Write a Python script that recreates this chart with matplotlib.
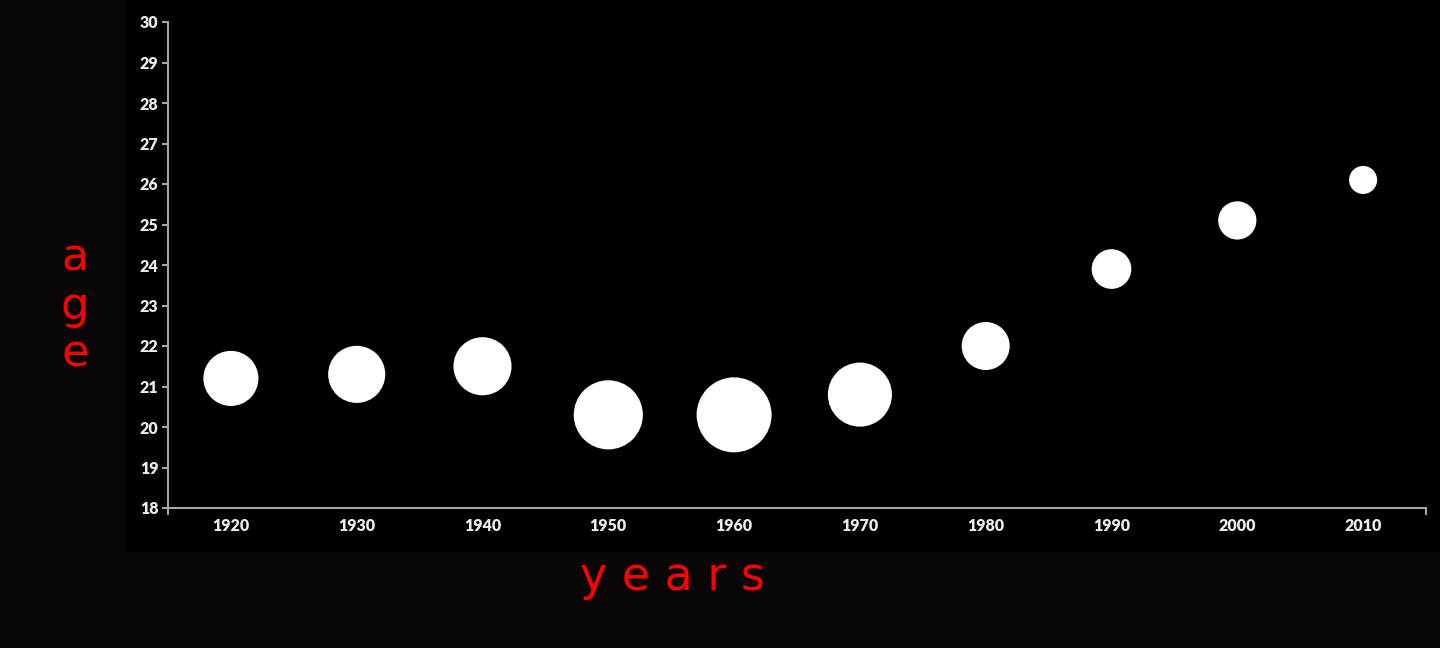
import matplotlib.pyplot as plt
from matplotlib.patches import Rectangle

# decade and average age, bubble value (relative)
years = [1920, 1930, 1940, 1950, 1960, 1970, 1980, 1990, 2000, 2010]
ages = [21.2, 21.3, 21.5, 20.3, 20.3, 20.8, 22.0, 23.9, 25.1, 26.1]
bubble = [54, 58, 60, 85, 100, 73, 41, 28, 26, 14]

y_ticks = list(range(18, 31))

OUTER_BG = "#070506"
GRID_GRAY = "#a6a6a6"
LABEL = "#ececec"
RED = "#ff0000"

fig = plt.figure(figsize=(14.4, 6.48), dpi=100, facecolor=OUTER_BG)
# black chart panel
fig.add_artist(Rectangle((127 / 1440, 1 - 551 / 648), 1 - 127 / 1440, 551 / 648,
                         transform=fig.transFigure, facecolor="black",
                         edgecolor="none", zorder=0))

ax = fig.add_axes([168 / 1440, 1 - 508 / 648, (1426 - 168) / 1440, (508 - 22) / 648])
ax.set_facecolor("black")
ax.patch.set_alpha(0)

max_d = 54.0  # points, largest bubble diameter
sizes = [(max_d ** 2) * b / max(bubble) for b in bubble]
ax.scatter(years, ages, s=sizes, color="white", edgecolors="none", zorder=3)

ax.set_xlim(1915, 2015)
ax.set_ylim(18, 30)
ax.set_xticks(years)
ax.set_xticklabels([str(y) for y in years])
ax.set_yticks(y_ticks)
ax.set_xticks([1915, 2015], minor=True)

for s in ["top", "right"]:
    ax.spines[s].set_visible(False)
for s in ["left", "bottom"]:
    ax.spines[s].set_color(GRID_GRAY)
    ax.spines[s].set_linewidth(1.5)

ax.tick_params(axis="x", which="major", length=0, pad=7, labelcolor=LABEL)
ax.tick_params(axis="x", which="minor", length=5, width=1.5, color=GRID_GRAY, direction="out")
ax.tick_params(axis="y", length=4.5, width=1.5, color=GRID_GRAY, pad=2.5, labelcolor=LABEL)
for lab in ax.get_xticklabels() + ax.get_yticklabels():
    lab.set_fontfamily("Lato")
    lab.set_fontweight("heavy")
    lab.set_fontsize(11.5)

fig.text(75 / 1440, 1 - 306 / 648, "a\ng\ne", color=RED, fontsize=32,
         family="DejaVu Sans", ha="center", va="center", linespacing=1.15)
fig.text(672 / 1440, 1 - 577 / 648, "y e a r s", color=RED, fontsize=33,
         family="DejaVu Sans", ha="center", va="center")

fig.savefig("out.png", dpi=100, facecolor=OUTER_BG)
